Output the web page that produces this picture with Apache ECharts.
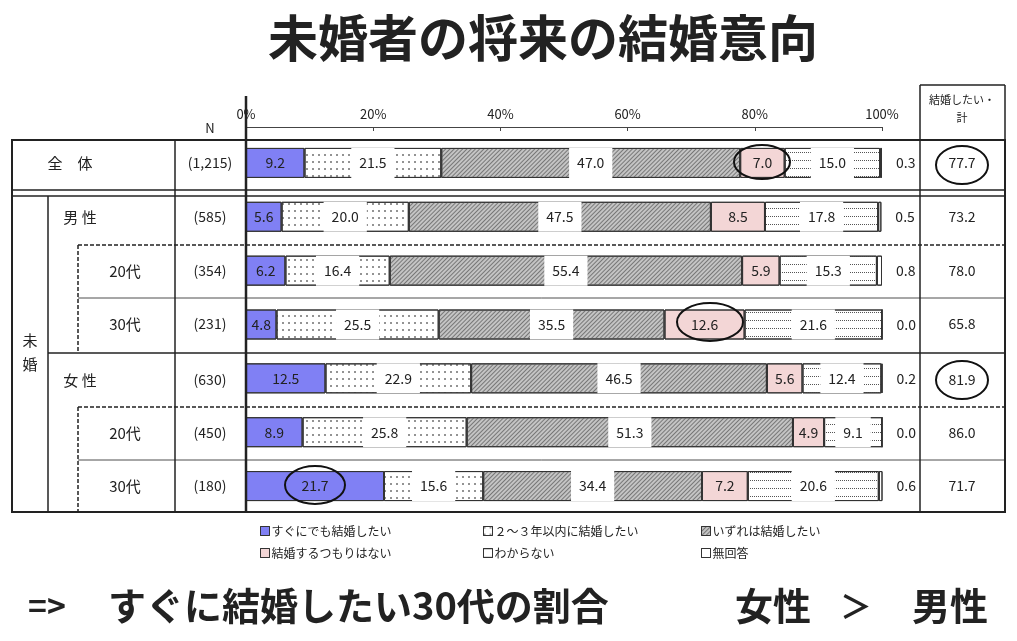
<!DOCTYPE html>
<html>
<head>
<meta charset="utf-8">
<script src="https://cdn.jsdelivr.net/npm/echarts@6/dist/echarts.min.js"></script>
<style>
  html, body { margin: 0; padding: 0; background: #fff; }
  #chart { width: 1017px; height: 641px; }
</style>
</head>
<body>
<div id="chart"></div>
<script>
var rows = ['全体', '男性', '男性20代', '男性30代', '女性', '女性20代', '女性30代'];
var rowLabels = ['全　体', '男 性', '20代', '30代', '女 性', '20代', '30代'];
var rowLabelX = [70, 80, 125, 125, 80, 125, 125];
var nLabels = ['(1,215)', '(585)', '(354)', '(231)', '(630)', '(450)', '(180)'];
var totalWant = ['77.7', '73.2', '78.0', '65.8', '81.9', '86.0', '71.7'];

var seriesNames = ['すぐにでも結婚したい', '２～３年以内に結婚したい', 'いずれは結婚したい', '結婚するつもりはない', 'わからない', '無回答'];
var soon = [9.2, 5.6, 6.2, 4.8, 12.5, 8.9, 21.7];
var within3 = [21.5, 20.0, 16.4, 25.5, 22.9, 25.8, 15.6];
var someday = [47.0, 47.5, 55.4, 35.5, 46.5, 51.3, 34.4];
var never = [7.0, 8.5, 5.9, 12.6, 5.6, 4.9, 7.2];
var unknown = [15.0, 17.8, 15.3, 21.6, 12.4, 9.1, 20.6];
var noAnswer = [0.3, 0.5, 0.8, 0.0, 0.2, 0.0, 0.6];

var rowY = [163, 217, 271, 324, 380, 433, 486];
var font = '"Noto Sans CJK JP", sans-serif';

var noDecal = { symbol: 'none' };
var styles = [
  { color: '#8080f4', decal: noDecal, bg: null },
  { color: '#ffffff', decal: { symbol: 'rect', symbolSize: 0.7, color: '#333', dashArrayX: [[1.5, 4]], dashArrayY: [1.5, 5], rotation: 0 }, bg: '#fff' },
  { color: '#c4c4c4', decal: { symbol: 'rect', symbolSize: 1, color: '#777', dashArrayX: [[1, 0]], dashArrayY: [1, 2], rotation: -Math.PI / 4 }, bg: '#fff' },
  { color: '#f3d6d6', decal: noDecal, bg: null },
  { color: '#ffffff', decal: { symbol: 'rect', symbolSize: 1, color: '#555', dashArrayX: [[1, 1]], dashArrayY: [1, 7], rotation: 0 }, bg: '#fff' },
  { color: '#ffffff', decal: noDecal, bg: null }
];
var datas = [soon, within3, someday, never, unknown, noAnswer];

var series = datas.map(function (d, i) {
  return {
    name: seriesNames[i],
    type: 'bar',
    stack: 'all',
    barWidth: 30,
    data: d,
    itemStyle: { color: styles[i].color, decal: styles[i].decal, borderColor: '#333', borderWidth: 1 },
    label: {
      show: true,
      position: i === 5 ? 'right' : 'inside',
      distance: 14,
      formatter: function (p) { return p.value.toFixed(1); },
      color: '#222',
      fontSize: 14,
      fontFamily: font,
      backgroundColor: styles[i].bg,
      padding: styles[i].bg ? [8, 8] : 0
    }
  };
});

var legendPos = [[255, 520], [478, 520], [696, 520], [255, 542], [478, 542], [696, 542]];
var legends = seriesNames.map(function (n, i) {
  return {
    data: [{ name: n, icon: 'rect' }], left: legendPos[i][0], top: legendPos[i][1],
    itemWidth: 9, itemHeight: 9, itemGap: 4, selectedMode: false,
    itemStyle: { borderWidth: 1, borderColor: '#333' },
    textStyle: { fontSize: 12, fontFamily: font, color: '#222', padding: [0, 0, 0, -3] }
  };
});

var g = [];
function line(x1, y1, x2, y2, w, dash) {
  g.push({ type: 'line', shape: { x1: x1, y1: y1, x2: x2, y2: y2 }, style: { stroke: '#222', lineWidth: w, lineDash: dash ? [4, 2] : null }, z: 10 });
}
function txt(x, y, t, size, align, weight) {
  g.push({ type: 'text', x: x, y: y, style: { text: t, fontSize: size, fontFamily: font, fill: '#222', align: align || 'center', verticalAlign: 'middle', fontWeight: weight || 'normal' }, z: 10 });
}
function ell(cx, cy, rx, ry) {
  g.push({ type: 'ellipse', shape: { cx: cx, cy: cy, rx: rx, ry: ry }, style: { fill: null, stroke: '#111', lineWidth: 2 }, z: 20 });
}
// table frame
g.push({ type: 'rect', shape: { x: 12, y: 140, width: 993, height: 372 }, style: { fill: null, stroke: '#222', lineWidth: 2 }, z: 10 });
line(12, 190, 1005, 190, 1.5); line(12, 196, 1005, 196, 1.5);
line(48, 353, 1005, 353, 1.5);
line(78, 245, 1005, 245, 1.5, true);
line(78, 298, 1005, 298, 0.8);
line(78, 407, 1005, 407, 1.5, true);
line(78, 460, 1005, 460, 0.8);
line(48, 196, 48, 512, 1.5);
line(78, 245, 78, 353, 1.5, true);
line(78, 407, 78, 512, 1.5, true);
line(175, 140, 175, 512, 1.5);
line(246, 96, 246, 512, 2.5);
line(920, 85, 920, 512, 1.5);
line(920, 85, 1005, 85, 1.5); line(1005, 85, 1005, 140, 1.5);
txt(962, 100, '結婚したい・', 11); txt(962, 118, '計', 11);
txt(210, 128, 'N', 13);
txt(30, 340, '未', 15); txt(30, 364, '婚', 15);
rows.forEach(function (r, i) {
  txt(rowLabelX[i], rowY[i], rowLabels[i], 15);
  txt(210, rowY[i], nLabels[i], 14);
  txt(962, rowY[i], totalWant[i], 14);
});
ell(762, 162, 28, 17); ell(962, 165, 26, 19); ell(710, 322, 33, 19); ell(962, 380, 26, 19); ell(315, 485, 30, 19);
txt(543, 38, '未婚者の将来の結婚意向', 50, 'center', 'bold');
txt(28, 606, '=>', 32, 'left', 'bold');
txt(108, 606, 'すぐに結婚したい30代の割合', 38, 'left', 'bold');
txt(735, 606, '女性', 38, 'left', 'bold');
txt(840, 606, '＞', 32, 'left', 'bold');
txt(912, 606, '男性', 38, 'left', 'bold');

var chart = echarts.init(document.getElementById('chart'));
chart.setOption({
  animation: false,
  aria: { decal: { show: true } },
  grid: { left: 246, right: 135, top: 136, bottom: 128 },
  legend: legends,
  xAxis: {
    type: 'value', position: 'top', min: 0, max: 100, interval: 20, offset: 9,
    axisLine: { show: true, lineStyle: { color: '#444' } },
    axisTick: { show: true, length: 4, inside: true, lineStyle: { color: '#444' } },
    axisLabel: { formatter: '{value}%', fontSize: 13, fontFamily: font, color: '#222', margin: 6 },
    splitLine: { show: false }
  },
  yAxis: {
    type: 'category', data: rows, inverse: true,
    axisLine: { show: false }, axisTick: { show: false }, axisLabel: { show: false }
  },
  series: series,
  graphic: g
});
</script>
</body>
</html>
